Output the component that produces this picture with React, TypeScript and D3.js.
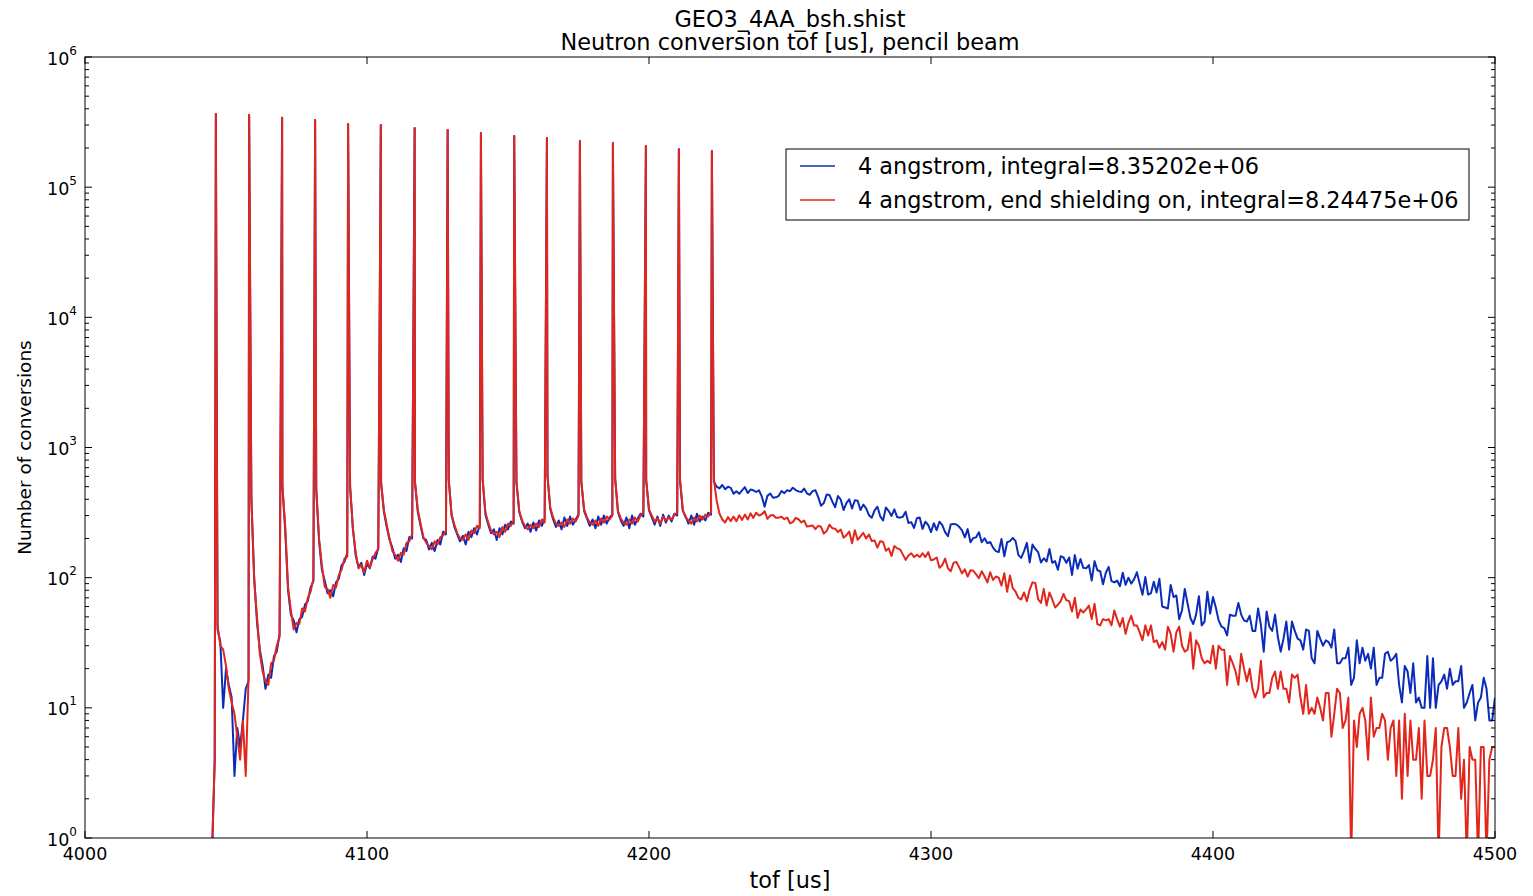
import React from 'react';
import * as d3 from 'd3';

// ---------- data (counts per 1 us bin, bin centres from FIRST_BIN) ----------
const FIRST_BIN = 4045;

const blueEarly = [
  0, 4, 40, 32, 10, 20, 15, 12, 3, 7, 5, 8, 14, 16,
  400, 100, 45, 28, 21, 14, 18, 17, 25, 27, 37,
  500, 230, 80, 52, 47, 38, 48, 50, 62, 66, 84, 94,
  480, 190, 115, 95, 76, 80, 72, 92, 98, 125, 132, 155,
  500, 240, 148, 120, 130, 105, 128, 118, 145, 140, 170,
  530, 320, 245, 195, 170, 140, 150, 132, 168, 160, 205, 200,
  545, 320, 250, 200, 195, 165, 185, 160, 195, 180, 225, 215,
  560, 300, 245, 215, 190, 210, 180, 225, 205, 240, 215, 255,
  570, 305, 255, 220, 235, 195, 240, 215, 255, 235, 270, 260,
  540, 318, 270, 240, 260, 225, 265, 230, 275, 250, 285,
  600, 335, 280, 245, 275, 235, 290, 250, 295, 255, 280, 305,
  545, 325, 285, 250, 280, 240, 295, 255, 300, 260, 290, 305,
  575, 318, 275, 250, 290, 240, 300, 255, 285, 310, 295,
  560, 330, 290, 255, 295, 250, 305, 265, 300, 270, 310, 300,
  560, 325, 295, 260, 300, 255, 310, 270, 295, 275, 315, 305,
];

const redEarly = [
  0, 4, 43, 30, 28, 21, 14, 11, 9, 6, 4, 8, 3, 17,
  410, 95, 50, 26, 19, 16, 15, 22, 23, 30, 35,
  510, 250, 85, 56, 40, 45, 44, 58, 55, 70, 78, 98,
  485, 200, 125, 85, 82, 70, 88, 84, 105, 115, 140, 145,
  510, 235, 155, 118, 125, 110, 135, 120, 138, 155, 165,
  540, 330, 255, 200, 160, 150, 135, 155, 150, 185, 190, 215,
  550, 335, 260, 205, 185, 175, 165, 190, 180, 205, 210, 230,
  565, 305, 255, 220, 200, 195, 215, 195, 230, 220, 250, 240,
  575, 315, 265, 230, 215, 225, 205, 245, 225, 260, 250, 275,
  545, 325, 275, 250, 235, 255, 240, 260, 245, 280, 265,
  605, 345, 290, 260, 250, 265, 245, 280, 260, 285, 270, 300,
  550, 335, 290, 265, 255, 275, 250, 285, 265, 295, 280, 300,
  580, 325, 285, 265, 255, 280, 260, 290, 270, 300, 315,
  565, 335, 300, 270, 285, 260, 295, 275, 290, 280, 305, 315,
  565, 330, 290, 275, 260, 290, 270, 300, 280, 305, 295, 320,
];

const blueTail = [
  545, 500, 485, 515, 478, 500, 490,
  441, 461, 441, 469, 496, 447, 475, 469, 455, 469,
  421, 350, 425, 443, 411, 414, 425, 463, 446, 470,
  462, 491, 471, 460, 455, 484, 445, 433, 462, 470,
  416, 357, 375, 435, 431, 385, 348, 424, 397, 331,
  374, 400, 340, 393, 390, 331, 364, 341, 302, 289,
  329, 351, 296, 275, 346, 325, 298, 335, 292, 289,
  294, 321, 263, 267, 241, 286, 290, 237, 269, 254,
  224, 262, 232, 269, 253, 224, 208, 256, 259, 256,
  246, 231, 204, 236, 187, 202, 204, 223, 187, 201,
  184, 188, 170, 160, 157, 198, 146, 187, 191, 202,
  191, 149, 142, 160, 185, 131, 180, 166, 157, 131,
  141, 133, 166, 130, 134, 115, 146, 143, 130, 143,
  105, 149, 117, 139, 119, 118, 125, 95, 134, 114,
  112, 89, 109, 121, 94, 92, 95, 86, 109, 88,
  100, 90, 97, 110, 90, 74, 101, 74, 76, 93,
  77, 98, 60, 59, 58, 88, 71, 73, 48, 56,
  82, 63, 49, 44, 52, 72, 43, 46, 78, 53,
  71, 59, 47, 42, 41, 36, 52, 51, 51, 64,
  52, 47, 46, 51, 39, 39, 58, 43, 27, 55,
  42, 39, 52, 35, 27, 34, 46, 28, 46, 39,
  34, 33, 28, 40, 39, 24, 22, 39, 34, 30,
  33, 32, 29, 40, 22, 22, 24, 24, 29, 15,
  17, 33, 22, 29, 23, 26, 20, 29, 15, 17,
  17, 26, 27, 23, 24, 26, 15, 11, 21, 19,
  13, 22, 11, 12, 10, 10, 25, 10, 24, 10,
  15, 16, 18, 14, 20, 15, 16, 16, 21, 10,
  11, 13, 15, 8, 11, 12, 17, 14, 8, 8,
  12,
];

const redTail = [
  570, 390, 310, 280, 265, 292, 272,
  295, 271, 302, 278, 305, 280, 312, 288, 315, 300,
  307, 324, 283, 300, 303, 289, 289, 294, 281, 290,
  261, 267, 288, 281, 266, 275, 247, 249, 252, 236,
  250, 246, 218, 228, 255, 240, 238, 224, 234, 203,
  212, 226, 184, 231, 195, 208, 221, 200, 214, 191,
  193, 170, 191, 188, 161, 168, 147, 175, 168, 165,
  151, 137, 148, 154, 144, 150, 144, 154, 144, 157,
  136, 138, 143, 119, 125, 140, 118, 112, 130, 132,
  120, 108, 116, 102, 114, 113, 106, 99, 112, 102,
  92, 110, 96, 102, 100, 87, 108, 78, 104, 83,
  78, 70, 68, 77, 66, 81, 92, 91, 68, 64,
  82, 61, 77, 68, 59, 62, 66, 75, 67, 66,
  55, 70, 49, 57, 54, 57, 61, 48, 63, 44,
  43, 48, 47, 48, 43, 56, 48, 42, 49, 37,
  45, 51, 43, 43, 38, 33, 43, 36, 43, 32,
  33, 29, 32, 28, 42, 37, 27, 38, 42, 30,
  27, 28, 38, 20, 33, 30, 24, 22, 23, 22,
  30, 20, 30, 28, 28, 15, 25, 22, 19, 15,
  26, 20, 16, 20, 14, 12, 14, 23, 12, 13,
  13, 17, 19, 14, 19, 14, 14, 11, 18, 17,
  18, 12, 9, 15, 9, 10, 9, 12, 10, 8,
  13, 13, 6, 9, 14, 13, 7, 8, 12, 0,
  8, 5, 9, 10, 8, 4, 12, 6, 7, 7,
  9, 8, 4, 7, 8, 3, 8, 2, 9, 3,
  8, 4, 4, 7, 2, 8, 3, 3, 4, 7,
  0, 5, 7, 7, 5, 3, 3, 7, 2, 4,
  0, 5, 4, 4, 0, 5, 5, 0, 4, 5,
  5,
];

// narrow conversion peaks (tof in us, counts)
const peakTof = [4046.4, 4058.2, 4069.9, 4081.6, 4093.3, 4104.9, 4116.9, 4128.6, 4140.4, 4152.2, 4163.8, 4175.5, 4187.2, 4198.9, 4210.6, 4222.3];
const peakBlue = [365000, 358000, 342000, 328000, 306000, 300000, 285000, 275000, 261000, 247000, 239000, 226000, 218000, 207000, 196000, 190000];
const peakRed = [365000, 358000, 342000, 328000, 306000, 300000, 285000, 275000, 261000, 247000, 239000, 226000, 218000, 207000, 196000, 190000];

const xTicks = [4000, 4100, 4200, 4300, 4400, 4500];
const yDecades = [0, 1, 2, 3, 4, 5, 6];
const seriesNames = [
  '4 angstrom, integral=8.35202e+06',
  '4 angstrom, end shielding on, integral=8.24475e+06',
];
const seriesColors = ['#0b2cb8', '#e1261c'];

const titleLines = ['GEO3_4AA_bsh.shist', 'Neutron conversion tof [us], pencil beam'];
const xLabel = 'tof [us]';
const yLabel = 'Number of conversions';

// ---------- layout ----------
const WIDTH = 1533;
const HEIGHT = 896;
const ML = 85;
const MT = 57;
const PW = 1410;
const PH = 781;
const FONT = '"DejaVu Sans", Verdana, sans-serif';

function buildSeries(early: number[], tail: number[], peaks: number[]) {
  const bins = early.concat(tail);
  const pts: [number, number][] = bins.map((v, i) => [FIRST_BIN + i, v]);
  peakTof.forEach((t, k) => pts.push([t, peaks[k]]));
  pts.sort((a, b) => a[0] - b[0]);
  return pts;
}

export default function App() {
  const x = d3.scaleLinear().domain([4000, 4500]).range([0, PW]);
  const y = d3.scaleLog().domain([1, 1e6]).range([PH, 0]);

  const line = d3
    .line<[number, number]>()
    .x((d) => x(d[0]))
    .y((d) => (d[1] > 0 ? y(d[1]) : PH + 20));

  const blue = buildSeries(blueEarly, blueTail, peakBlue);
  const red = buildSeries(redEarly, redTail, peakRed);

  const minorY: number[] = [];
  yDecades.slice(0, -1).forEach((e) => {
    for (let m = 2; m <= 9; m++) minorY.push(m * Math.pow(10, e));
  });

  const tickFont = 17.5;
  const labelFont = 22.4;

  return (
    <svg
      width={WIDTH}
      height={HEIGHT}
      style={{ position: 'absolute', left: 0, top: 0, background: '#fff' }}
      fontFamily={FONT}
    >
      <rect x={0} y={0} width={WIDTH} height={HEIGHT} fill="#fff" />
      <defs>
        <clipPath id="plotClip">
          <rect x={0} y={0} width={PW} height={PH} />
        </clipPath>
      </defs>

      {titleLines.map((t, i) => (
        <text key={t} x={ML + PW / 2} y={26.5 + i * 23.5} textAnchor="middle" fontSize={labelFont} fill="#000">
          {t}
        </text>
      ))}

      <g transform={`translate(${ML},${MT})`}>
        <g clipPath="url(#plotClip)">
          <path d={line(blue) || ''} fill="none" stroke={seriesColors[0]} strokeWidth={2} strokeLinejoin="round" />
          <path d={line(red) || ''} fill="none" stroke={seriesColors[1]} strokeWidth={2} strokeLinejoin="round" />
        </g>

        {/* frame */}
        <rect x={0} y={0} width={PW} height={PH} fill="none" stroke="#000" strokeWidth={1} />

        {/* x ticks */}
        {xTicks.map((t) => (
          <g key={t}>
            <line x1={x(t)} x2={x(t)} y1={PH} y2={PH - 7} stroke="#000" />
            <line x1={x(t)} x2={x(t)} y1={0} y2={7} stroke="#000" />
            <text x={x(t)} y={PH + 22} textAnchor="middle" fontSize={tickFont} fill="#000">
              {t}
            </text>
          </g>
        ))}

        {/* y ticks */}
        {yDecades.map((e) => {
          const yy = y(Math.pow(10, e));
          return (
            <g key={e}>
              <line x1={0} x2={7} y1={yy} y2={yy} stroke="#000" />
              <line x1={PW} x2={PW - 7} y1={yy} y2={yy} stroke="#000" />
              <text x={-8} y={yy + 7.5} textAnchor="end" fontSize={tickFont} fill="#000">
                10
                <tspan dy={-10} fontSize={12}>
                  {e}
                </tspan>
              </text>
            </g>
          );
        })}
        {minorY.map((v) => (
          <g key={v}>
            <line x1={0} x2={4} y1={y(v)} y2={y(v)} stroke="#000" />
            <line x1={PW} x2={PW - 4} y1={y(v)} y2={y(v)} stroke="#000" />
          </g>
        ))}

        {/* legend */}
        <g transform={`translate(${701},${92})`}>
          <rect x={0} y={0} width={683} height={71} fill="#fff" stroke="#000" strokeWidth={1} />
          {seriesNames.map((n, i) => (
            <g key={n} transform={`translate(0,${17 + i * 34})`}>
              <line x1={14} x2={49} y1={0} y2={0} stroke={seriesColors[i]} strokeWidth={1.3} />
              <text x={72} y={7.5} fontSize={labelFont} fill="#000">
                {n}
              </text>
            </g>
          ))}
        </g>
      </g>

      <text x={ML + PW / 2} y={888} textAnchor="middle" fontSize={labelFont} fill="#000">
        {xLabel}
      </text>
      <text
        transform={`translate(31,${MT + PH / 2}) rotate(-90)`}
        textAnchor="middle"
        fontSize={18.5}
        fill="#000"
      >
        {yLabel}
      </text>
    </svg>
  );
}
